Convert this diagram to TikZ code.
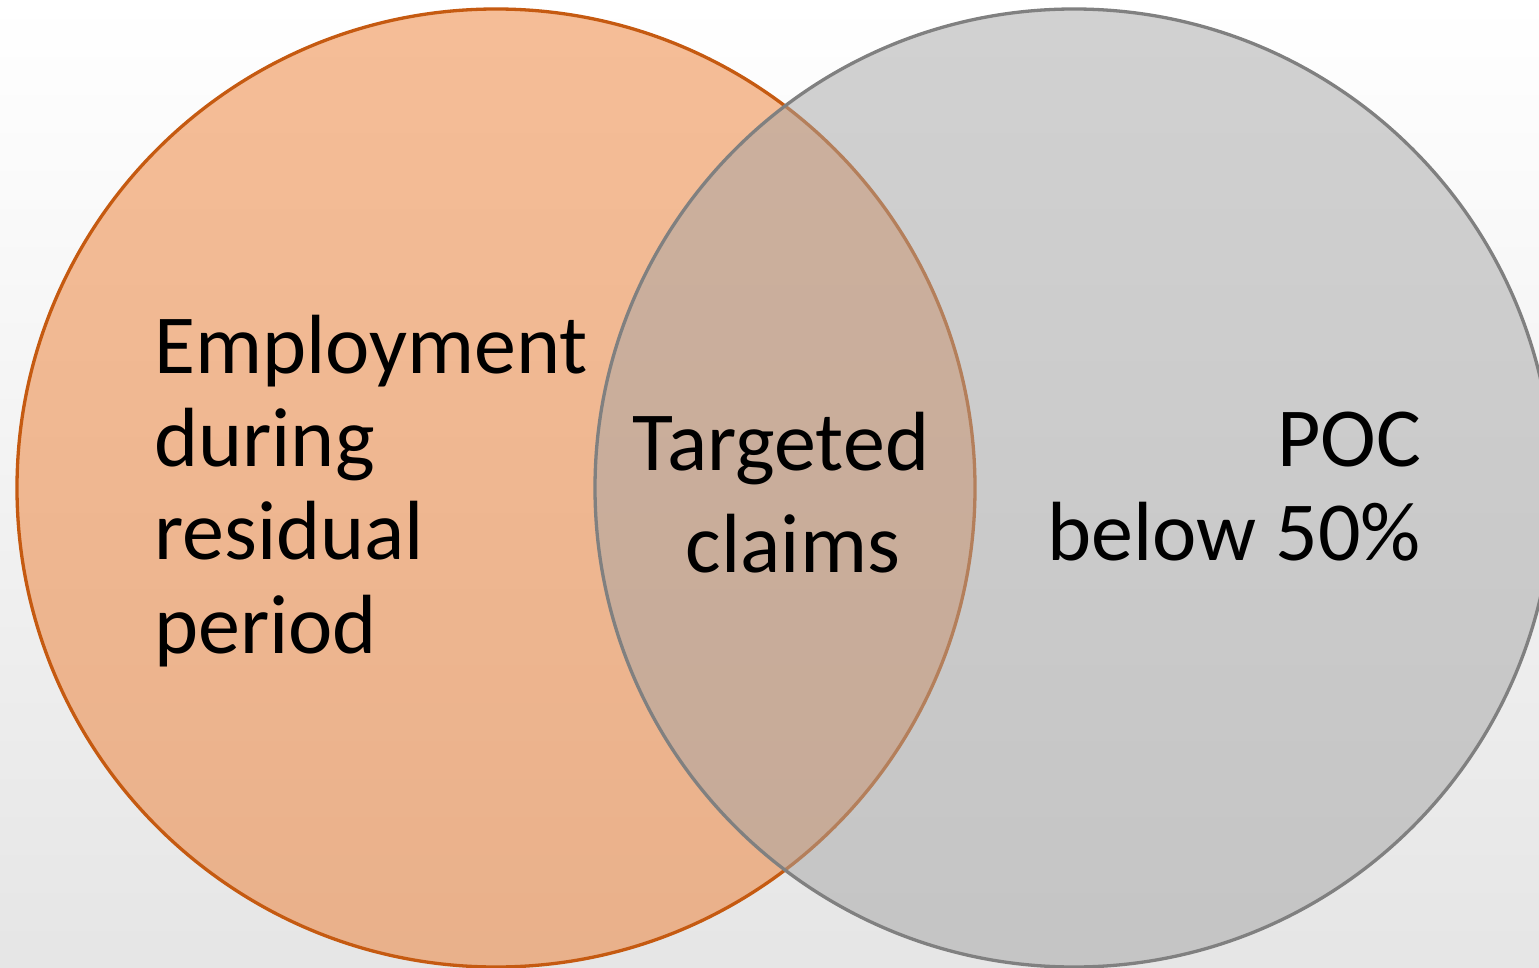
\documentclass[tikz,border=0pt]{standalone}
\usepackage{fontspec}
\setmainfont{Carlito}
\definecolor{orfill}{HTML}{ED7D31}
\definecolor{orline}{HTML}{C55A11}
\definecolor{grfill}{HTML}{A5A5A5}
\definecolor{grline}{HTML}{808080}
\begin{document}
\begin{tikzpicture}[x=1pt,y=-1pt,
  setcircle/.style={line width=3.3pt, fill opacity=0.5},
  label/.style={inner sep=0pt, font=\fontsize{84}{93.3}\selectfont}]
\useasboundingbox (0,0) rectangle (1539,968);
\shade[top color=white, bottom color=black!10] (0,0) rectangle (1539,968);
\draw[setcircle, draw=orline, fill=orfill] (496,488) circle (479pt);
\draw[setcircle, draw=grline, fill=grfill] (1074,488) circle (479pt);
\node[label, align=left, anchor=base west] (emp) at (154,653)
  {Employment\\during\\residual\\period};
\node[label, align=center, anchor=base, font=\fontsize{84}{102}\selectfont] (tgt) at (781,572)
  {Targeted\\\hspace*{24pt}claims};
\node[label, align=right, anchor=base east] (poc) at (1421,560)
  {POC\\below 50\%};
\end{tikzpicture}
\end{document}
